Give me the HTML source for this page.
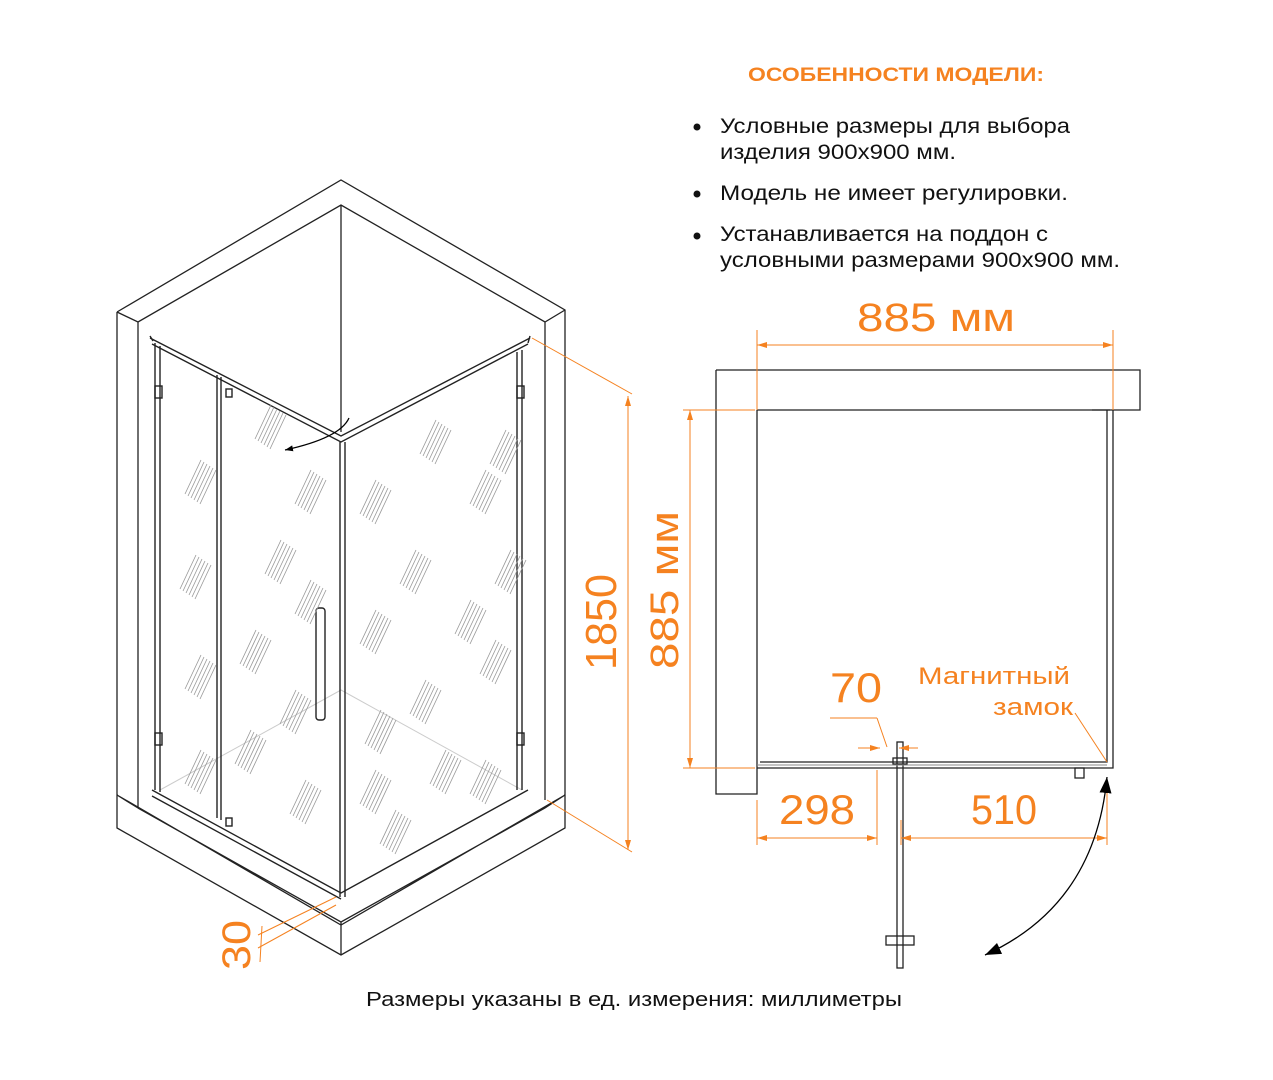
<!DOCTYPE html>
<html><head><meta charset="utf-8"><style>
html,body{margin:0;padding:0;background:#fff;width:1273px;height:1080px;overflow:hidden}
svg{display:block;font-family:"Liberation Sans",sans-serif}
.o{fill:#f58220}
</style></head><body>
<svg width="1273" height="1080" viewBox="0 0 1273 1080" xmlns="http://www.w3.org/2000/svg">
<defs>
<marker id="a" markerWidth="10" markerHeight="6" refX="10" refY="3" orient="auto" markerUnits="userSpaceOnUse"><path d="M0,0L10,3L0,6z" fill="#f58220"/></marker>
<marker id="k" markerWidth="16" markerHeight="12" refX="16" refY="6" orient="auto-start-reverse" markerUnits="userSpaceOnUse"><path d="M0,0L16,6L0,12z" fill="#000"/></marker>
<marker id="ks" markerWidth="8" markerHeight="6" refX="8" refY="3" orient="auto" markerUnits="userSpaceOnUse"><path d="M0,0L8,3L0,6z" fill="#000"/></marker>
<g id="h" stroke="#999" stroke-width="0.8"><line x1="0" y1="34" x2="16" y2="0"/><line x1="3" y1="36" x2="19" y2="2"/><line x1="6" y1="38" x2="22" y2="4"/><line x1="9" y1="40" x2="25" y2="6"/><line x1="12" y1="42" x2="28" y2="8"/><line x1="15" y1="44" x2="31" y2="10"/></g>
</defs>

<g lengthAdjust="spacingAndGlyphs">
<text x="896" y="81" text-anchor="middle" class="o" font-weight="bold" font-size="19" textLength="296" lengthAdjust="spacingAndGlyphs">ОСОБЕННОСТИ МОДЕЛИ:</text>
<g font-size="21" fill="#111">
<circle cx="697" cy="127" r="3.5"/><circle cx="697" cy="194" r="3.5"/><circle cx="697" cy="236" r="3.5"/>
<text x="720" y="133" textLength="350" lengthAdjust="spacingAndGlyphs">Условные размеры для выбора</text>
<text x="720" y="159" textLength="236" lengthAdjust="spacingAndGlyphs">изделия 900х900 мм.</text>
<text x="720" y="200" textLength="348" lengthAdjust="spacingAndGlyphs">Модель не имеет регулировки.</text>
<text x="720" y="241" textLength="328" lengthAdjust="spacingAndGlyphs">Устанавливается на поддон с</text>
<text x="720" y="267" textLength="400" lengthAdjust="spacingAndGlyphs">условными размерами 900х900 мм.</text>
</g>
<text x="634" y="1006" text-anchor="middle" font-size="20" fill="#111" textLength="536" lengthAdjust="spacingAndGlyphs">Размеры указаны в ед. измерения: миллиметры</text>
</g>

<g stroke="#222" stroke-width="1.3" fill="none">
<path d="M117,312 L341,180 L565,310 L565,800 M117,312 L117,828 L341,955 L565,828 L565,800"/>
<path d="M117,312 L138,322 L341,205 L545,322 L565,310 M138,322 L138,808 M545,322 L545,800 M341,205 L341,432"/>
<path d="M117,795 L138,808 M138,808 L341,922 L545,808 L565,795 M341,922 L341,955 M117,795 L341,925 L565,795"/>
</g>
<path d="M160,790 L341,690 L522,790" stroke="#ccc" fill="none"/>
<g stroke="#222" stroke-width="1.4" fill="none">
<path d="M150,338 L341,436 L530,338 M152,344 L341,442 L528,344"/>
<path d="M150,336 L153,341 M530,336 L528,343"/>
<path d="M155,343 L155,790 M160,346 L160,792 M217,375 L217,818 M221,377 L221,820 M340,442 L340,897 M345,442 L345,897 M517,352 L517,790 M522,350 L522,790"/>
<path d="M152,790 L341,893 L528,790 M152,796 L341,899"/>
<rect x="316" y="608" width="9" height="112" rx="3"/>
<rect x="155" y="386" width="7" height="12"/><rect x="155" y="733" width="7" height="12"/>
<rect x="517" y="386" width="7" height="12"/><rect x="517" y="733" width="7" height="12"/>
<rect x="226" y="389" width="6" height="8"/><rect x="226" y="818" width="6" height="8"/>
</g>
<path d="M349,418 Q340,438 285,450" stroke="#000" stroke-width="1.3" fill="none" marker-end="url(#ks)"/>
<g>
<use href="#h" x="185" y="460"/><use href="#h" x="255" y="405"/><use href="#h" x="265" y="540"/>
<use href="#h" x="180" y="555"/><use href="#h" x="240" y="630"/><use href="#h" x="185" y="655"/>
<use href="#h" x="235" y="730"/><use href="#h" x="280" y="690"/><use href="#h" x="295" y="470"/>
<use href="#h" x="295" y="580"/><use href="#h" x="290" y="780"/><use href="#h" x="185" y="750"/>
<use href="#h" x="360" y="480"/><use href="#h" x="420" y="420"/><use href="#h" x="470" y="470"/>
<use href="#h" x="400" y="550"/><use href="#h" x="455" y="600"/><use href="#h" x="410" y="680"/>
<use href="#h" x="480" y="640"/><use href="#h" x="365" y="710"/><use href="#h" x="430" y="750"/>
<use href="#h" x="495" y="550"/><use href="#h" x="360" y="610"/><use href="#h" x="380" y="810"/>
<use href="#h" x="470" y="760"/><use href="#h" x="360" y="770"/><use href="#h" x="490" y="430"/>
</g>
<g stroke="#f58220" stroke-width="1" fill="none">
<line x1="532" y1="338" x2="632" y2="394"/><line x1="547" y1="800" x2="632" y2="852"/>
<line x1="628" y1="420" x2="628" y2="396" marker-end="url(#a)"/><line x1="628" y1="820" x2="628" y2="850" marker-end="url(#a)"/>
<line x1="628" y1="400" x2="628" y2="846"/>
<line x1="258" y1="935" x2="336" y2="897"/><line x1="258" y1="948" x2="336" y2="905"/>
<line x1="262" y1="926" x2="260" y2="962"/>
</g>
<text transform="translate(616,622) rotate(-90)" text-anchor="middle" class="o" font-size="44" textLength="96" lengthAdjust="spacingAndGlyphs">1850</text>
<text transform="translate(250,945) rotate(-90)" text-anchor="middle" class="o" font-size="40" textLength="50" lengthAdjust="spacingAndGlyphs">30</text>

<g stroke="#222" stroke-width="1.3" fill="none">
<path d="M716,370 L1140,370 L1140,410 L757,410 M716,370 L716,794 L757,794 L757,410"/>
<path d="M1113,410 L1113,768 L757,768 M1107,410 L1107,762 L760,762"/>
<path d="M1092,410 L1110,410"/>
<rect x="1075" y="768" width="9" height="10"/>
<rect x="897" y="742" width="6" height="226"/>
<rect x="886" y="936" width="28" height="9"/>
<rect x="893" y="758" width="14" height="6"/>
</g>
<line x1="757" y1="765" x2="1107" y2="765" stroke="#888" stroke-width="1"/>
<g stroke="#f58220" stroke-width="1" fill="none">
<line x1="757" y1="330" x2="757" y2="410"/><line x1="1113" y1="330" x2="1113" y2="410"/>
<line x1="800" y1="345" x2="757" y2="345" marker-end="url(#a)"/><line x1="1070" y1="345" x2="1113" y2="345" marker-end="url(#a)"/>
<line x1="760" y1="345" x2="1110" y2="345"/>
<line x1="683" y1="410" x2="755" y2="410"/><line x1="683" y1="768" x2="755" y2="768"/>
<line x1="690" y1="450" x2="690" y2="410" marker-end="url(#a)"/><line x1="690" y1="730" x2="690" y2="768" marker-end="url(#a)"/>
<line x1="690" y1="414" x2="690" y2="764"/>
<line x1="757" y1="800" x2="757" y2="845"/><line x1="877" y1="770" x2="877" y2="845"/>
<line x1="800" y1="838" x2="757" y2="838" marker-end="url(#a)"/><line x1="835" y1="838" x2="877" y2="838" marker-end="url(#a)"/>
<line x1="760" y1="838" x2="874" y2="838"/>
<line x1="901" y1="820" x2="901" y2="845"/><line x1="1107" y1="780" x2="1107" y2="845"/>
<line x1="940" y1="838" x2="901" y2="838" marker-end="url(#a)"/><line x1="1070" y1="838" x2="1107" y2="838" marker-end="url(#a)"/>
<line x1="904" y1="838" x2="1104" y2="838"/>
<line x1="830" y1="718" x2="877" y2="718"/><line x1="877" y1="718" x2="887" y2="747"/>
<line x1="858" y1="748" x2="880" y2="748" marker-end="url(#a)"/><line x1="918" y1="748" x2="899" y2="748" marker-end="url(#a)"/>
<line x1="1075" y1="713" x2="1107" y2="762"/>
</g>
<path d="M1107,777 Q1095,905 985,955" stroke="#000" stroke-width="1.3" fill="none" marker-start="url(#k)" marker-end="url(#k)"/>
<text x="936" y="331" text-anchor="middle" class="o" font-size="40" textLength="158" lengthAdjust="spacingAndGlyphs">885 мм</text>
<text transform="translate(678,590) rotate(-90)" text-anchor="middle" class="o" font-size="40" textLength="158" lengthAdjust="spacingAndGlyphs">885 мм</text>
<text x="856" y="702" text-anchor="middle" class="o" font-size="42" textLength="52" lengthAdjust="spacingAndGlyphs">70</text>
<text x="817" y="824" text-anchor="middle" class="o" font-size="42" textLength="76" lengthAdjust="spacingAndGlyphs">298</text>
<text x="1004" y="824" text-anchor="middle" class="o" font-size="42" textLength="66" lengthAdjust="spacingAndGlyphs">510</text>
<text x="1070" y="684" text-anchor="end" class="o" font-size="24" textLength="152" lengthAdjust="spacingAndGlyphs">Магнитный</text>
<text x="1073" y="715" text-anchor="end" class="o" font-size="24" textLength="80" lengthAdjust="spacingAndGlyphs">замок</text>
</svg>
</body></html>
